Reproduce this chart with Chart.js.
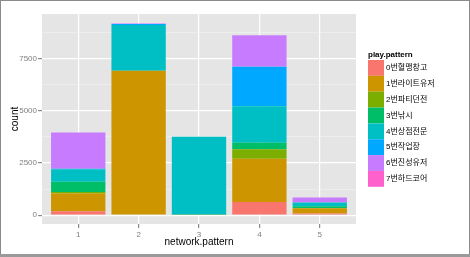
<!DOCTYPE html>
<html>
<head>
<meta charset="utf-8">
<script src="https://cdn.jsdelivr.net/npm/chart.js@4.4.1/dist/chart.umd.min.js"></script>
<style>
  html, body { margin: 0; padding: 0; background: #fff; }
  #wrap { position: relative; width: 470px; height: 257px; }
</style>
</head>
<body>
<div id="wrap"><canvas id="chart" width="470" height="257"></canvas></div>
<script>
// 범주 / 데이터
const networkPatterns = [1, 2, 3, 4, 5];
const playPatterns = ['0번혈맹창고', '1번라이트유저', '2번파티던전', '3번낚시', '4번상점전문', '5번작업장', '6번진성유저', '7번하드코어'];
const playColors = ['#F8766D', '#CD9600', '#7CAE00', '#00BE67', '#00BFC4', '#00A9FF', '#C77CFF', '#FF61CC'];

// count per play.pattern, index = network.pattern 1..5
const count0 = [190, 0, 0, 634, 80];
const count1 = [845, 6915, 20, 2069, 250];
const count2 = [75, 0, 0, 460, 0];
const count3 = [495, 0, 0, 303, 100];
const count4 = [590, 2185, 3730, 1746, 175];
const count5 = [30, 50, 0, 1893, 0];
const count6 = [1735, 20, 0, 1512, 240];
const count7 = [0, 0, 0, 0, 0];
const counts = [count0, count1, count2, count3, count4, count5, count6, count7];

const yMajorTicks = [0, 2500, 5000, 7500];
const yMinorTicks = [1250, 3750, 6250, 8750];

const FONT = '"Liberation Sans", Arial, sans-serif';
const KFONT = '"Liberation Sans", "Noto Sans CJK KR", sans-serif';

// 패널 배경 + 범례 + 테두리
const ggPanel = {
    id: 'ggPanel',
    beforeDraw(chart) {
        const { ctx, chartArea: a } = chart;
        ctx.save();
        ctx.fillStyle = '#E5E5E5';
        ctx.fillRect(a.left, a.top, a.right - a.left, a.bottom - a.top);
        ctx.restore();
    },
    afterDraw(chart) {
        const ctx = chart.ctx;
        ctx.save();
        // legend
        const lx = 368, ly = 60, kw = 16, kh = 15.85;
        ctx.fillStyle = '#000';
        ctx.font = 'bold 8px ' + FONT;
        ctx.textBaseline = 'alphabetic';
        ctx.textAlign = 'left';
        ctx.fillText('play.pattern', lx, 57);
        ctx.font = '8px ' + KFONT;
        ctx.textBaseline = 'middle';
        playPatterns.forEach((name, i) => {
            ctx.fillStyle = playColors[i];
            ctx.fillRect(lx, ly + i * kh, kw, kh);
            ctx.fillStyle = '#000';
            ctx.fillText(name, lx + kw + 2, ly + i * kh + kh / 2);
        });
        // frame
        ctx.strokeStyle = '#8a8a8a';
        ctx.lineWidth = 1;
        ctx.strokeRect(0.5, 0.5, 469, 255);
        ctx.fillStyle = '#9a9a9a';
        ctx.fillRect(0, 254, 470, 3);
        ctx.restore();
    }
};

const datasets = playPatterns.map((name, i) => ({
    label: name,
    data: networkPatterns.map((x, j) => ({ x: x, y: counts[i][j] })),
    backgroundColor: playColors[i],
    borderWidth: 0,
    barPercentage: 0.9,
    categoryPercentage: 1.0
}));

const isMajor = v => yMajorTicks.includes(v);

new Chart(document.getElementById('chart'), {
    type: 'bar',
    data: { datasets },
    options: {
        responsive: false,
        animation: false,
        layout: { padding: { left: 0, top: 14, right: 114, bottom: 0 } },
        scales: {
            x: {
                type: 'linear',
                stacked: true,
                offset: false,
                min: 0.4,
                max: 5.6,
                afterFit: s => { s.height = 33; },
                afterBuildTicks: s => { s.ticks = networkPatterns.map(v => ({ value: v })); },
                border: { display: false },
                grid: { offset: false, color: '#FFFFFF', lineWidth: 1.2, tickColor: '#8c8c8c', tickLength: 4 },
                ticks: {
                    autoSkip: false,
                    maxRotation: 0,
                    padding: 2,
                    color: '#7F7F7F',
                    font: { family: FONT, size: 8 },
                    callback: v => String(v)
                },
                title: { display: true, text: 'network.pattern', color: '#000', font: { family: FONT, size: 10 }, padding: { top: 0, bottom: 9 } }
            },
            y: {
                stacked: true,
                min: -420,
                max: 9630,
                afterFit: s => { s.width = 42; },
                afterBuildTicks: s => {
                    s.ticks = yMajorTicks.concat(yMinorTicks).sort((a, b) => a - b).map(v => ({ value: v }));
                },
                border: { display: false },
                grid: {
                    color: c => isMajor(c.tick.value) ? '#FFFFFF' : '#F2F2F2',
                    lineWidth: c => isMajor(c.tick.value) ? 1.2 : 0.6,
                    tickColor: c => isMajor(c.tick.value) ? '#8c8c8c' : 'rgba(0,0,0,0)',
                    tickLength: 4
                },
                ticks: {
                    autoSkip: false,
                    padding: 1,
                    color: '#7F7F7F',
                    font: { family: FONT, size: 8 },
                    callback: v => isMajor(v) ? String(v) : ''
                },
                title: { display: true, text: 'count', color: '#000', font: { family: FONT, size: 10 }, padding: { top: 9, bottom: 0 } }
            }
        },
        plugins: {
            legend: { display: false },
            tooltip: { enabled: false }
        }
    },
    plugins: [ggPanel]
});
</script>
</body>
</html>
